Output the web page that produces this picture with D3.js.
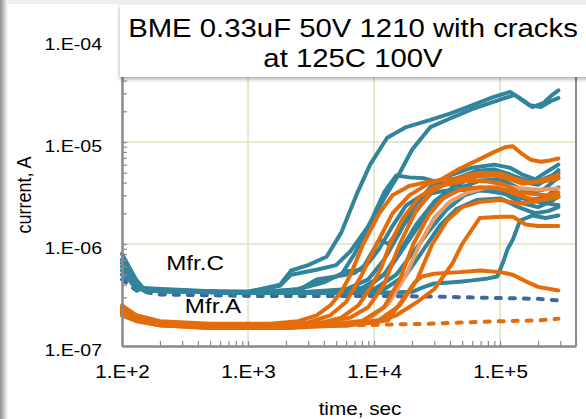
<!doctype html><html><head><meta charset="utf-8"></head><body style="margin:0;background:#fff">
<script src="https://d3js.org/d3.v7.min.js"></script>
<style>
  svg text {
    font-family: "Liberation Sans", Arial, sans-serif;
    fill: #000;
  }
</style>
<script>
  // axis decades and their labels
  var xDecades = [1e2, 1e3, 1e4, 1e5];
  var xTickLabels = ['1.E+2', '1.E+3', '1.E+4', '1.E+5'];
  var yDecades = [1e-7, 1e-6, 1e-5, 1e-4];
  var yTickLabels = ['1.E-07', '1.E-06', '1.E-05', '1.E-04'];

  var chartTitle = ['BME 0.33uF 50V 1210 with cracks', 'at 125C 100V'];
  var groupNames = ['Mfr.C', 'Mfr.A'];

  // Mfr.C parts, [time sec, current A]
  var mfrC = [
    [[100,7e-7],[130,3.8e-7],[200,3.5e-7],[1000,3.4e-7],[1800,4.0e-7],[2200,5.5e-7],[3000,6.2e-7],[4200,7.5e-7],[5500,1.3e-6],[7300,3.1e-6],[9300,6e-6],[12700,1.1e-5],[18000,1.4e-5],[28000,1.65e-5],[40000,1.9e-5],[55000,2.2e-5],[88000,2.75e-5],[120000,3.1e-5],[150000,2.6e-5],[180000,2.2e-5],[220000,2.4e-5],[260000,2.9e-5],[290000,3.2e-5]],
    [[100,6e-7],[130,3.7e-7],[200,3.4e-7],[1000,3.4e-7],[1800,3.9e-7],[2200,5e-7],[3500,5.6e-7],[5000,6.2e-7],[6500,8.5e-7],[9000,1.5e-6],[12000,2.8e-6],[16000,5e-6],[20000,8.4e-6],[28000,1.4e-5],[40000,1.7e-5],[60000,2.1e-5],[100000,2.6e-5],[130000,2.9e-5],[170000,2.3e-5],[210000,2.2e-5],[250000,2.5e-5],[290000,2.7e-5]],
    [[100,5.5e-7],[130,3.6e-7],[1000,3.3e-7],[2500,3.6e-7],[4000,4.4e-7],[5500,5e-7],[7000,8e-7],[9300,1.6e-6],[12000,3.2e-6],[15000,4.7e-6],[19000,4.5e-6],[25000,4.4e-6],[33000,4.0e-6],[48000,3.7e-6],[70000,3.4e-6],[100000,3.2e-6],[150000,2.8e-6],[200000,2.6e-6],[290000,2.4e-6]],
    [[100,5e-7],[150,3.5e-7],[1000,3.3e-7],[3000,3.4e-7],[6000,3.6e-7],[9000,4.5e-7],[12000,7e-7],[16000,1.3e-6],[20000,2.2e-6],[28000,3.6e-6],[40000,4.7e-6],[60000,5.6e-6],[90000,6e-6],[120000,5.6e-6],[150000,4.8e-6],[190000,4.3e-6],[240000,5.2e-6],[290000,6e-6]],
    [[100,6.5e-7],[150,3.6e-7],[1000,3.3e-7],[4000,3.4e-7],[8000,3.7e-7],[12000,5e-7],[16000,8.5e-7],[22000,1.6e-6],[30000,2.6e-6],[42000,3.6e-6],[60000,4.5e-6],[90000,5e-6],[120000,4.6e-6],[160000,4e-6],[200000,3.8e-6],[250000,4.5e-6],[290000,5.3e-6]],
    [[100,5.5e-7],[150,3.5e-7],[1000,3.3e-7],[5000,3.4e-7],[9000,3.8e-7],[13000,5.5e-7],[18000,1e-6],[25000,1.8e-6],[35000,2.8e-6],[50000,3.6e-6],[70000,4.2e-6],[100000,4.3e-6],[130000,3.7e-6],[170000,3.2e-6],[220000,3.4e-6],[290000,4.5e-6]],
    [[100,8e-7],[140,3.7e-7],[1000,3.3e-7],[5000,3.4e-7],[10000,3.6e-7],[15000,5e-7],[20000,8e-7],[28000,1.4e-6],[38000,2.2e-6],[52000,3e-6],[75000,3.5e-6],[100000,3.6e-6],[140000,3e-6],[180000,2.7e-6],[230000,2.9e-6],[290000,3.6e-6]],
    [[100,6e-7],[150,3.5e-7],[1000,3.3e-7],[2500,3.5e-7],[3500,4.5e-7],[5000,4.8e-7],[7000,5.2e-7],[9000,6.5e-7],[11000,9e-7],[14000,1.5e-6],[18000,2.4e-6],[24000,3e-6],[35000,3.3e-6],[50000,3.4e-6],[80000,3.3e-6],[110000,3.1e-6],[150000,2.5e-6],[200000,2.3e-6],[250000,2.6e-6],[290000,2.9e-6]],
    [[100,5e-7],[150,3.5e-7],[1000,3.3e-7],[6000,3.4e-7],[12000,3.6e-7],[18000,5e-7],[25000,9e-7],[33000,1.5e-6],[45000,2.2e-6],[65000,2.7e-6],[100000,2.8e-6],[140000,2.3e-6],[190000,2e-6],[240000,2.1e-6],[290000,2.3e-6]],
    [[100,6e-7],[150,3.5e-7],[1000,3.3e-7],[10000,3.3e-7],[20000,3.4e-7],[25000,3.8e-7],[30000,4.1e-7],[40000,4.2e-7],[50000,4.3e-7],[60000,4.4e-7],[80000,4.6e-7],[95000,4.8e-7],[105000,6.5e-7],[115000,9e-7],[126000,1.1e-6],[144000,1.7e-6],[180000,1.9e-6],[230000,1.8e-6],[290000,1.9e-6]],
    [[100,7e-7],[140,3.6e-7],[1000,3.3e-7],[2500,3.6e-7],[4000,4.2e-7],[6000,5.4e-7],[8000,5.6e-7],[11000,1.1e-6],[13000,1.0e-6],[16000,1.4e-6],[22000,2.2e-6],[30000,3.4e-6],[45000,4.4e-6],[65000,5.2e-6],[90000,5.4e-6],[120000,4.8e-6],[160000,4.2e-6],[210000,4.2e-6],[290000,5e-6]]
  ];
  // Mfr.C part that did not break down (dashed)
  var mfrCStable = [[100,4.5e-7],[130,3.5e-7],[200,3.2e-7],[1000,3.1e-7],[10000,3.1e-7],[30000,3.05e-7],[100000,2.95e-7],[200000,2.9e-7],[290000,2.8e-7]];

  // Mfr.A parts
  var mfrA = [
    [[100,2.5e-7],[130,2.0e-7],[200,1.75e-7],[500,1.65e-7],[1500,1.65e-7],[2500,1.75e-7],[3500,2.0e-7],[4500,2.5e-7],[5500,3.4e-7],[6500,5e-7],[8200,1e-6],[11000,2e-6],[14000,3e-6],[19000,3.7e-6],[25000,4e-6],[33000,4.2e-6],[45000,4.4e-6],[65000,4.6e-6],[90000,4.7e-6],[120000,4.3e-6],[150000,3.9e-6],[180000,4e-6],[230000,4.3e-6],[290000,4.8e-6]],
    [[100,2.3e-7],[130,1.9e-7],[200,1.7e-7],[500,1.6e-7],[1500,1.6e-7],[3000,1.7e-7],[4500,2.0e-7],[6000,2.7e-7],[8000,5e-7],[10500,1e-6],[14000,2e-6],[19000,3e-6],[26000,3.8e-6],[34000,4.3e-6],[48000,5.5e-6],[69000,6.8e-6],[90000,8e-6],[110000,8.9e-6],[126000,9.1e-6],[150000,7.6e-6],[175000,6.7e-6],[210000,6.4e-6],[250000,6.6e-6],[290000,6.9e-6]],
    [[100,2.2e-7],[130,1.85e-7],[200,1.65e-7],[500,1.55e-7],[2000,1.55e-7],[3500,1.65e-7],[5500,1.9e-7],[7500,2.5e-7],[9500,3.8e-7],[11500,6e-7],[13400,1e-6],[17000,1.8e-6],[23000,2.9e-6],[30000,3.6e-6],[40000,3.9e-6],[55000,4.2e-6],[80000,4.1e-6],[110000,3.8e-6],[140000,3.2e-6],[180000,3.1e-6],[230000,3.0e-6],[290000,3.2e-6]],
    [[100,2.4e-7],[130,1.95e-7],[200,1.7e-7],[500,1.6e-7],[2000,1.6e-7],[4000,1.7e-7],[6500,1.9e-7],[9000,2.4e-7],[12000,4e-7],[16000,1e-6],[21000,2e-6],[28000,3.2e-6],[38000,4e-6],[50000,4.6e-6],[70000,5e-6],[100000,4.9e-6],[130000,4.4e-6],[170000,4.0e-6],[220000,4.1e-6],[290000,4.4e-6]],
    [[100,2.1e-7],[130,1.8e-7],[200,1.6e-7],[500,1.5e-7],[2000,1.5e-7],[4000,1.6e-7],[8000,1.75e-7],[12000,2.4e-7],[16000,4.5e-7],[20500,1e-6],[27000,1.9e-6],[35000,2.8e-6],[48000,3.4e-6],[70000,3.6e-6],[100000,3.5e-6],[130000,3.1e-6],[170000,2.8e-6],[220000,2.7e-6],[290000,2.9e-6]],
    [[100,2.0e-7],[130,1.75e-7],[200,1.6e-7],[500,1.5e-7],[2000,1.5e-7],[6000,1.6e-7],[11000,1.8e-7],[16000,2.5e-7],[22000,4.5e-7],[29000,1e-6],[38000,1.7e-6],[50000,2.3e-6],[70000,2.6e-6],[100000,2.7e-6],[140000,2.5e-6],[190000,2.6e-6],[290000,3.0e-6]],
    [[100,2.2e-7],[130,1.85e-7],[200,1.65e-7],[500,1.55e-7],[2000,1.55e-7],[6000,1.6e-7],[10000,1.7e-7],[15000,2e-7],[22000,2.7e-7],[30000,3.6e-7],[42000,6.5e-7],[50000,1e-6],[69000,1.8e-6],[100000,1.85e-6],[126000,1.85e-6],[160000,1.55e-6],[200000,1.5e-6],[290000,1.5e-6]],
    [[100,2.1e-7],[130,1.8e-7],[200,1.6e-7],[500,1.55e-7],[2000,1.55e-7],[6000,1.6e-7],[10000,1.7e-7],[13000,1.8e-7],[16000,2.6e-7],[21000,4.2e-7],[24000,4.8e-7],[30000,5.1e-7],[48000,5.3e-7],[70000,5.5e-7],[100000,5.3e-7],[126000,5e-7],[160000,4.3e-7],[200000,3.8e-7],[290000,3.5e-7]]
  ];
  // the paler orange trace
  var mfrAPale = [[100,2.3e-7],[130,1.9e-7],[200,1.7e-7],[500,1.6e-7],[2000,1.6e-7],[5000,1.65e-7],[9000,1.8e-7],[13000,2.6e-7],[18000,5e-7],[23000,1e-6],[30000,1.8e-6],[40000,2.6e-6],[55000,3.2e-6],[80000,3.6e-6],[110000,3.7e-6],[150000,3.5e-6],[200000,3.4e-6],[290000,3.5e-6]];
  // Mfr.A part that did not break down (dashed)
  var mfrAStable = [[100,2.0e-7],[200,1.6e-7],[1000,1.55e-7],[5000,1.58e-7],[12000,1.62e-7],[25000,1.65e-7],[50000,1.7e-7],[100000,1.75e-7],[200000,1.78e-7],[290000,1.85e-7]];

  var width = 586, height = 419;
  var teal = '#31849b', orange = '#e46c0a', axisGray = '#8a8a8a', gridGreen = '#d9e5bf';
  var stretch = 'scale(1.15,1)';   // the text in the picture is a bit wide

  var x = d3.scaleLog().domain([100, 4e5]).range([122, 576]);
  var y = d3.scaleLog().domain([1e-7, 1e-4]).range([346, 40]);

  var svg = d3.select('body').append('svg')
    .attr('width', width)
    .attr('height', height);

  var defs = svg.append('defs');
  var grad = defs.append('linearGradient').attr('id', 'edge');
  grad.append('stop').attr('offset', '0%').attr('stop-color', '#8f8f8f');
  grad.append('stop').attr('offset', '100%').attr('stop-color', '#fff');
  var shadow = defs.append('filter').attr('id', 'shadow')
    .attr('x', '-5%').attr('y', '-10%').attr('width', '115%').attr('height', '130%');
  shadow.append('feDropShadow').attr('dx', 0).attr('dy', 2).attr('stdDeviation', 2)
    .attr('flood-color', '#000').attr('flood-opacity', 0.35);

  svg.append('rect').attr('width', width).attr('height', height).attr('fill', '#fff');
  svg.append('rect').attr('x', 0).attr('y', 0).attr('width', width).attr('height', 4).attr('fill', '#eeeeee');
  svg.append('rect').attr('x', 0).attr('y', 0).attr('width', 8).attr('height', height).attr('fill', 'url(#edge)');

  // minor + major tick values
  var xTicks = [], yTicks = [];
  xDecades.forEach(function(d) {
    for (var m = 1; m <= 9; m++) if (d * m <= 4e5) xTicks.push(d * m);
  });
  yDecades.forEach(function(d) {
    for (var m = 1; m <= 9; m++) if (d * m <= 1.0001e-4) yTicks.push(d * m);
  });

  // grid
  svg.append('g').selectAll('line.vg')
    .data(xDecades.slice(1))
    .enter().append('line')
    .attr('x1', function(d) { return x(d); })
    .attr('x2', function(d) { return x(d); })
    .attr('y1', y(1e-4)).attr('y2', y(1e-7))
    .attr('stroke', gridGreen).attr('stroke-width', 1.5);
  svg.append('g').selectAll('line.hg')
    .data(yDecades.slice(1))
    .enter().append('line')
    .attr('y1', function(d) { return y(d); })
    .attr('y2', function(d) { return y(d); })
    .attr('x1', x(100)).attr('x2', x(4e5))
    .attr('stroke', gridGreen).attr('stroke-width', 1.5);

  // right frame
  svg.append('line')
    .attr('x1', x(4e5)).attr('x2', x(4e5))
    .attr('y1', y(1e-4)).attr('y2', y(1e-7))
    .attr('stroke', axisGray).attr('stroke-width', 2);

  var line = d3.line()
    .x(function(d) { return x(d[0]); })
    .y(function(d) { return y(d[1]); });

  function trace(data, color, dashed) {
    svg.append('path')
      .datum(data)
      .attr('d', line)
      .attr('fill', 'none')
      .attr('stroke', color)
      .attr('stroke-width', 4)
      .attr('stroke-linejoin', 'round')
      .attr('stroke-linecap', 'round')
      .attr('stroke-dasharray', dashed ? '5,9' : null);
  }

  trace(mfrCStable, '#3d67a0', true);
  mfrC.forEach(function(c) { trace(c, teal); });
  trace(mfrAStable, orange, true);
  trace(mfrAPale, '#ef9a62');
  mfrA.forEach(function(c) { trace(c, orange); });

  // axes
  var xAxis = d3.axisBottom(x)
    .tickValues(xTicks)
    .tickSizeInner(-5).tickSizeOuter(0).tickPadding(19)
    .tickFormat(function(d) {
      var i = xDecades.indexOf(d);
      return i < 0 ? '' : xTickLabels[i];
    });
  var yAxis = d3.axisLeft(y)
    .tickValues(yTicks)
    .tickSizeInner(-5).tickSizeOuter(0).tickPadding(20)
    .tickFormat(function(d) {
      var i = yDecades.indexOf(d);
      return i < 0 ? '' : yTickLabels[i];
    });

  var gx = svg.append('g').attr('transform', 'translate(0,346)').call(xAxis);
  var gy = svg.append('g').attr('transform', 'translate(122,0)').call(yAxis);

  [gx, gy].forEach(function(g) {
    g.select('.domain').attr('stroke', axisGray).attr('stroke-width', 2.5);
    g.selectAll('.tick line').attr('stroke', axisGray).attr('stroke-width', 1.2);
  });
  gx.selectAll('.tick text').attr('font-size', 18).attr('transform', stretch);
  gy.selectAll('.tick text').attr('font-size', 17).attr('transform', stretch)
    .attr('x', -20 / 1.15).attr('dy', 9);

  // axis titles
  svg.append('text')
    .attr('transform', 'translate(31,195) ' + stretch + ' rotate(-90)')
    .attr('text-anchor', 'middle')
    .attr('font-size', 18)
    .text('current, A');
  svg.append('text')
    .attr('transform', 'translate(360,415) ' + stretch)
    .attr('text-anchor', 'middle')
    .attr('font-size', 18)
    .text('time, sec');

  // group labels
  svg.append('text')
    .attr('transform', 'translate(195,270) ' + stretch)
    .attr('text-anchor', 'middle')
    .attr('font-size', 21)
    .text(groupNames[0]);
  svg.append('text')
    .attr('transform', 'translate(213,313) ' + stretch)
    .attr('text-anchor', 'middle')
    .attr('font-size', 21)
    .text(groupNames[1]);

  // title box
  svg.append('rect')
    .attr('x', 120).attr('y', 5)
    .attr('width', 480).attr('height', 72)
    .attr('fill', '#fff')
    .attr('filter', 'url(#shadow)');
  chartTitle.forEach(function(t, i) {
    svg.append('text')
      .attr('transform', 'translate(353,' + (37 + i * 30) + ') ' + stretch)
      .attr('text-anchor', 'middle')
      .attr('font-size', 25.5)
      .text(t);
  });
</script>
</body></html>
